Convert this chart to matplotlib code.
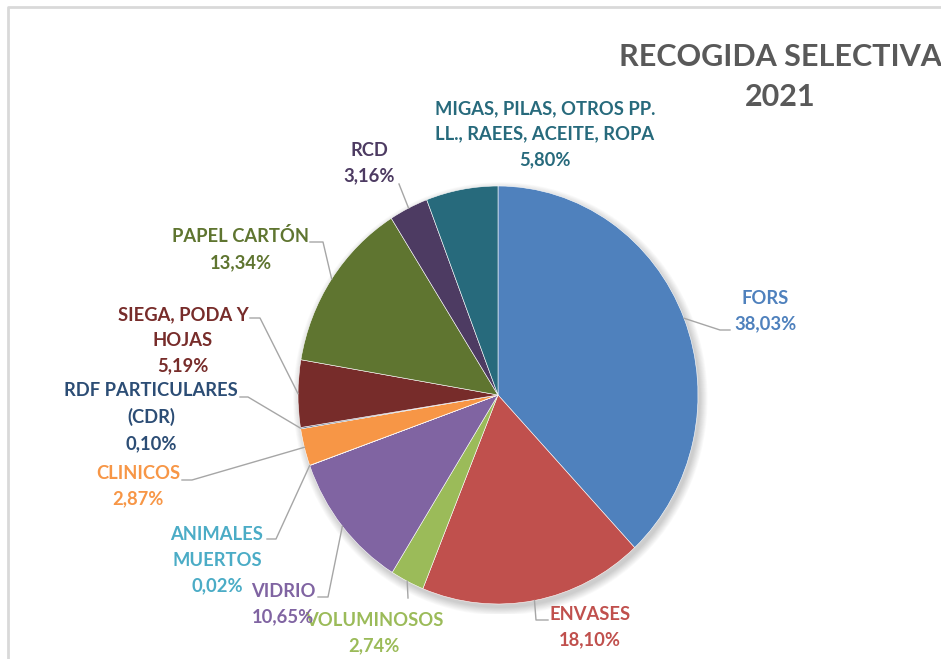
import matplotlib
matplotlib.use("Agg")
import matplotlib.pyplot as plt
import numpy as np
from matplotlib.patches import Ellipse

categories = ["FORS", "ENVASES", "VOLUMINOSOS", "VIDRIO", "ANIMALES\nMUERTOS",
              "CLINICOS", "RDF PARTICULARES\n(CDR)", "SIEGA, PODA Y\nHOJAS",
              "PAPEL CARTÓN", "RCD", "MIGAS, PILAS, OTROS PP.\nLL., RAEES, ACEITE, ROPA"]
values = [38.03, 18.10, 2.74, 10.65, 0.02, 2.87, 0.10, 5.19, 13.34, 3.16, 5.80]
colors = ["#4F81BD", "#C0504D", "#9BBB59", "#8064A2", "#4BACC6", "#F79646",
          "#2C4D75", "#772C2A", "#5F7530", "#4D3B62", "#276A7C"]
title_lines = ["RECOGIDA SELECTIVA", "2021"]

# layout (pixel coordinates)
label_pos = [(765, 311), (590, 627), (374, 633), (283, 604), (217, 560),
             (138, 486), (151, 417), (183, 340), (241, 249), (369, 163), (545, 134)]
leader_pts = [[(720, 330), (730, 330)],
              [(536, 620), (548, 620)],
              [(408, 598)],
              [(328, 597), (318, 597)],
              [(276, 539), (267, 539)],
              [(192, 480), (182, 480)],
              [(248, 397), (240, 397)],
              [(260, 318), (250, 318)],
              [(323, 242), (310, 242)],
              [(399, 184)],
              None]

W, H = 941, 659
fig = plt.figure(figsize=(W / 100, H / 100), dpi=100)
fig.patch.set_facecolor("white")

# pie axes (pixel box of the unit circle)
px0, px1, py0, py1 = 298, 698, 186, 604
pad = 0.05
pax = fig.add_axes([(px0 - pad / 2 * (px1 - px0)) / W,
                    1 - (py1 + pad / 2 * (py1 - py0)) / H,
                    (1 + pad) * (px1 - px0) / W,
                    (1 + pad) * (py1 - py0) / H])

# soft shadow
for i in range(10):
    pax.add_patch(Ellipse((0.012, -0.018), 2 + 0.008 * i, 2 + 0.008 * i,
                          facecolor="black", alpha=0.02, edgecolor="none", zorder=0))

wedges, _ = pax.pie(values, colors=colors, startangle=90, counterclock=False,
                    radius=1.0, center=(0, 0),
                    wedgeprops=dict(edgecolor="white", linewidth=0.4))
for w in wedges:
    w.set_zorder(2)
pax.set_aspect("auto")
pax.set_xlim(-1 - pad, 1 + pad)
pax.set_ylim(-1 - pad, 1 + pad)
pax.axis("off")

# overlay axes in pixel coordinates
oax = fig.add_axes([0, 0, 1, 1], zorder=5)
oax.set_xlim(0, W)
oax.set_ylim(H, 0)
oax.axis("off")
oax.patch.set_alpha(0)

# frame
oax.plot([8.5, 8.5, W + 5], [H + 5, 6.5, 6.5], color="#d9d9d9", lw=2, solid_capstyle="butt")

font = "Lato"
oax.text(780, 57, title_lines[0], ha="center", va="center", fontsize=22,
         fontweight="bold", color="#595959", family=font)
oax.text(780, 97, title_lines[1], ha="center", va="center", fontsize=22,
         fontweight="bold", color="#595959", family=font)

to_disp = pax.transData
from_disp = oax.transData.inverted()
for i, (w, v, c, cat) in enumerate(zip(wedges, values, colors, categories)):
    ang = np.deg2rad((w.theta1 + w.theta2) / 2)
    anchor = from_disp.transform(to_disp.transform((np.cos(ang), np.sin(ang))))
    pts = leader_pts[i]
    if pts:
        xs = [anchor[0]] + [p[0] for p in pts]
        ys = [anchor[1]] + [p[1] for p in pts]
        oax.plot(xs, ys, color="#a6a6a6", lw=1.0)
    pct = f"{v:.2f}".replace(".", ",") + "%"
    lx, ly = label_pos[i]
    oax.text(lx, ly, f"{cat}\n{pct}", ha="center", va="center", fontsize=13.2,
             fontweight="bold", color=c, family=font, linespacing=1.62)

fig.savefig("out.png", dpi=100, facecolor="white")
